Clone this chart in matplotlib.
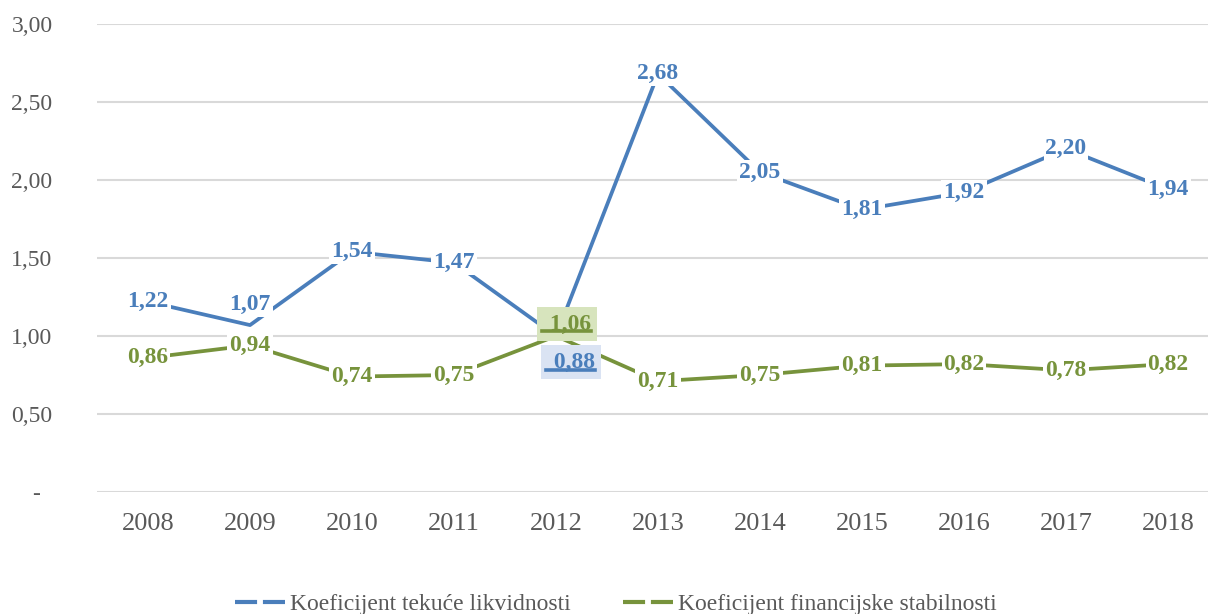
import matplotlib
matplotlib.use("Agg")
import matplotlib.pyplot as plt
from matplotlib.lines import Line2D

years = ["2008", "2009", "2010", "2011", "2012", "2013", "2014", "2015", "2016", "2017", "2018"]
likvidnost = [1.22, 1.07, 1.54, 1.47, 1.00, 2.68, 2.05, 1.81, 1.92, 2.20, 1.94]
stabilnost = [0.86, 0.94, 0.74, 0.75, 1.00, 0.71, 0.75, 0.81, 0.82, 0.78, 0.82]
likvidnost_labels = ["1,22", "1,07", "1,54", "1,47", "0,88", "2,68", "2,05", "1,81", "1,92", "2,20", "1,94"]
stabilnost_labels = ["0,86", "0,94", "0,74", "0,75", "1,06", "0,71", "0,75", "0,81", "0,82", "0,78", "0,82"]
y_ticks = [0, 0.5, 1.0, 1.5, 2.0, 2.5, 3.0]
y_ticklabels = ["-  ", "0,50", "1,00", "1,50", "2,00", "2,50", "3,00"]
series_names = ["Koeficijent tekuće likvidnosti", "Koeficijent financijske stabilnosti"]

BLUE = "#4a7ebb"
GREEN = "#77933c"
GRID = "#d9d9d9"
TXT = "#595959"
FONT = "Liberation Serif"

plt.rcParams["font.family"] = FONT

W, H = 1208, 614
fig = plt.figure(figsize=(W / 100, H / 100), dpi=100)
ax = fig.add_axes([97 / W, (H - 492) / H, 1122 / W, 468 / H])
ax.set_xlim(-0.5, len(years) - 0.5)
ax.set_ylim(0, 3)
for s in ax.spines.values():
    s.set_visible(False)
ax.set_yticks(y_ticks)
ax.set_yticklabels(y_ticklabels)
ax.set_xticks(range(len(years)))
ax.set_xticklabels(years)
ax.tick_params(axis="y", length=0, pad=32, labelsize=17, labelcolor=TXT)
ax.tick_params(axis="x", length=0, pad=15, labelsize=19, labelcolor=TXT)
ax.grid(axis="y", color=GRID, lw=1.5)
ax.set_axisbelow(True)

x = list(range(len(years)))
ax.plot(x, likvidnost, color=BLUE, lw=2.7, solid_capstyle="butt", zorder=2)
ax.plot(x, stabilnost, color=GREEN, lw=2.7, solid_capstyle="butt", zorder=2)

# label offsets (dx in category units, dy in data units) for manually moved labels
blue_off = {1: (0.0, 0.13), 4: (0.15, -0.167)}
green_off = {4: (0.11, 0.077)}
boxed = {}

def put_labels(vals, labels, color, offs, boxcolor):
    for i, (v, lab) in enumerate(zip(vals, labels)):
        dx, dy = offs.get(i, (0.0, 0.0))
        if i == 4:
            t = ax.text(i + dx, v + dy, " " + lab, ha="center", va="center", fontsize=17,
                        fontweight="bold", color=color, zorder=5,
                        bbox=dict(boxstyle="square,pad=0.28", fc=boxcolor, ec="none"))
            boxed[lab] = (t, color)
        else:
            ax.text(i + dx, v + dy, lab, ha="center", va="center", fontsize=17,
                    fontweight="bold", color=color, zorder=5,
                    bbox=dict(boxstyle="square,pad=0.08", fc="white", ec="none"))

put_labels(likvidnost, likvidnost_labels, BLUE, blue_off, "#dae3f3")
put_labels(stabilnost, stabilnost_labels, GREEN, green_off, "#d7e4bd")

fig.canvas.draw()
r = fig.canvas.get_renderer()
for lab, (t, color) in boxed.items():
    bb = t.get_window_extent(r)
    yl = bb.y0 + 3
    fig.add_artist(Line2D([bb.x0 - 2, bb.x1], [yl, yl], transform=None, color=color, lw=2.6, zorder=6))

handles = [Line2D([], [], color=BLUE, lw=3, linestyle=(0, (5.3, 1.4))),
           Line2D([], [], color=GREEN, lw=3, linestyle=(0, (5.3, 1.4)))]
leg = fig.legend(handles, series_names, loc="center", bbox_to_anchor=(616 / W, (H - 604) / H),
                 ncol=2, frameon=False, fontsize=17, handlelength=2.3, handletextpad=0.05,
                 columnspacing=2.2, labelcolor=TXT)

fig.savefig("out.png", dpi=100)
